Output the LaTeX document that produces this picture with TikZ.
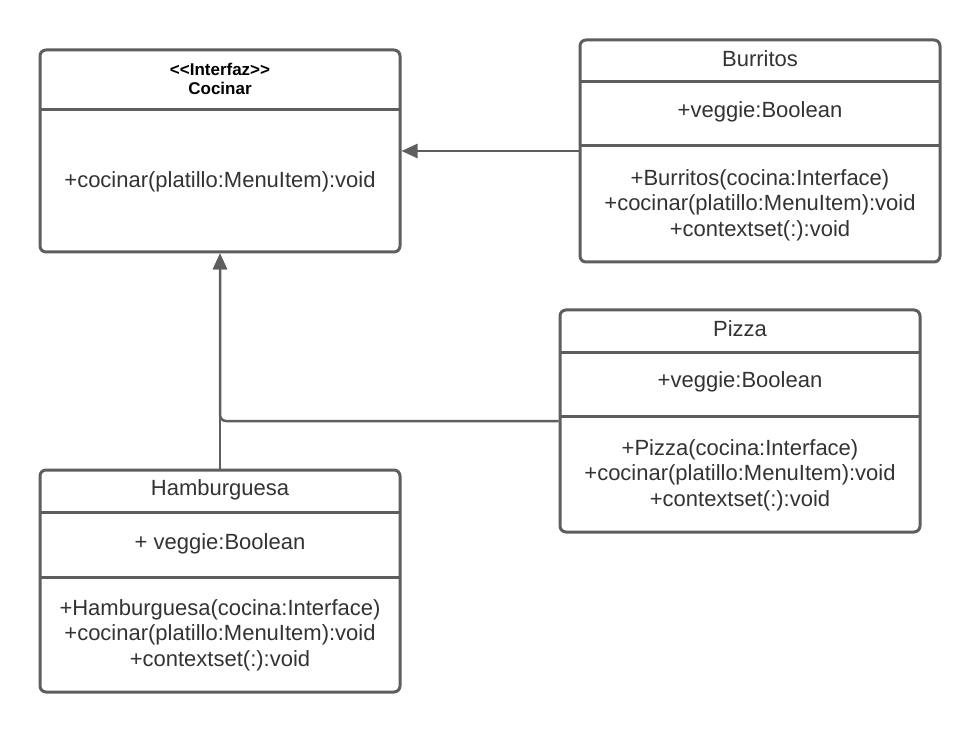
\documentclass[tikz,border=0pt]{standalone}
\usepackage{fontspec}
\setmainfont{Liberation Sans}
\usetikzlibrary{arrows.meta}
\definecolor{umlgray}{HTML}{5E5E5E}
\definecolor{umltext}{HTML}{333333}
\tikzset{
  classbox/.style = {draw = umlgray, line width = 3pt, rounded corners = 6pt,
    minimum width = 360pt, minimum height = 222pt, inner sep = 0pt, fill = white},
  member/.style = {text = umltext, font = \fontsize{22}{25.5}\selectfont, align = center, inner sep = 0pt},
  stereo/.style = {text = black, font = \bfseries\fontsize{17}{19}\selectfont, align = center, inner sep = 0pt},
  divider/.style = {draw = umlgray, line width = 3pt},
  realize/.style = {draw = umlgray, line width = 2.5pt, -{Triangle[length = 16pt, width = 14pt]}}
}
\begin{document}
\begin{tikzpicture}[x = 1pt, y = -1pt]
        \useasboundingbox (0, 0) rectangle (980, 735);
        % classes
        \node[classbox, minimum height = 202pt] (cocinar) at (220, 151) {};
        \node[classbox] (burritos) at (760, 151) {};
        \node[classbox] (pizza) at (740, 421) {};
        \node[classbox] (hamburguesa) at (220, 581) {};
        % realizations
        \draw[realize] (burritos.west) -- (cocinar.east);
        \draw[realize, rounded corners = 6pt] (pizza.west) -| (cocinar.south);
        \draw[realize] (hamburguesa.north) -- (cocinar.south);
        % compartments
        \draw[divider] (40, 110) -- (400, 110);
        \draw[divider] (580, 82) -- (940, 82);
        \draw[divider] (580, 146) -- (940, 146);
        \draw[divider] (560, 352) -- (920, 352);
        \draw[divider] (560, 416) -- (920, 416);
        \draw[divider] (40, 512) -- (400, 512);
        \draw[divider] (40, 577) -- (400, 577);
        % Cocinar
        \node[stereo] (cocinarname) at (220, 79) {{<}{<}Interfaz{>}{>}\\Cocinar};
        \node[member] (cocinarops) at (220, 182) {+cocinar(platillo:MenuItem):void};
        % Burritos
        \node[member] (burritosname) at (760, 59) {Burritos};
        \node[member] (burritosattr) at (760, 112) {+veggie:Boolean};
        \node[member] (burritosops) at (760, 205) {+Burritos(cocina:Interface)\\+cocinar(platillo:MenuItem):void\\+contextset(:):void};
        % Pizza
        \node[member] (pizzaname) at (740, 329) {Pizza};
        \node[member] (pizzaattr) at (740, 382) {+veggie:Boolean};
        \node[member] (pizzaops) at (740, 475) {+Pizza(cocina:Interface)\\+cocinar(platillo:MenuItem):void\\+contextset(:):void};
        % Hamburguesa
        \node[member] (hamburguesaname) at (220, 490) {Hamburguesa};
        \node[member] (hamburguesaattr) at (220, 544) {+ veggie:Boolean};
        \node[member] (hamburguesaops) at (220, 635) {+Hamburguesa(cocina:Interface)\\+cocinar(platillo:MenuItem):void\\+contextset(:):void};
    \end{tikzpicture}
\end{document}
